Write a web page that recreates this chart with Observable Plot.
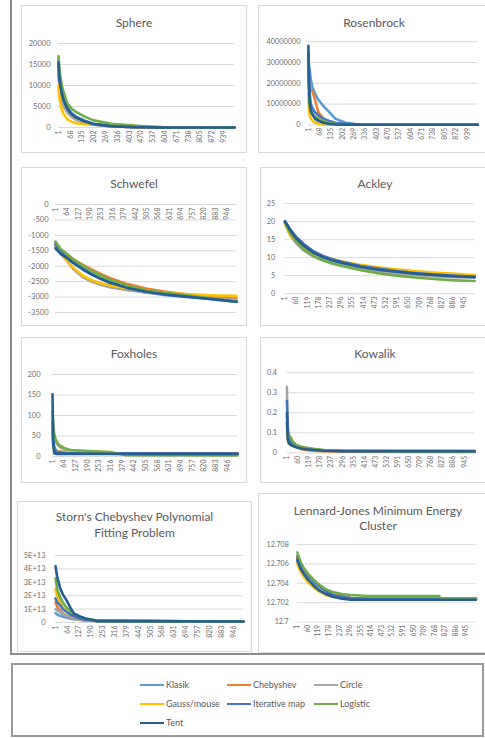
<!DOCTYPE html>
<html><head><meta charset="utf-8">
<script src="https://cdn.jsdelivr.net/npm/d3@7"></script>
<script src="https://cdn.jsdelivr.net/npm/@observablehq/plot@0.6"></script>
<style>
body{margin:0;background:#fff;font-family:Lato,"Open Sans",sans-serif;}
#page{position:relative;width:485px;height:738px;overflow:hidden;background:#fff;}
.frame{position:absolute;left:10px;top:-10px;width:520px;height:665px;border:2px solid #8c8c8c;box-sizing:border-box;}
.box{position:absolute;border:1px solid #d9d9d9;box-sizing:border-box;background:#fff;}
.plot{position:absolute;}
.title{position:absolute;text-align:center;color:#595959;font-size:12px;white-space:nowrap;}
.legend{position:absolute;left:11px;top:663px;width:473px;height:74px;border:2px solid #9a9a9a;box-sizing:border-box;}
.lg{position:absolute;left:127px;top:10px;display:grid;grid-template-columns:87px 87px 87px;grid-auto-rows:19px;}
.item{display:flex;align-items:center;font-size:9px;color:#595959;white-space:nowrap;}
.sw{width:24px;height:2px;margin-right:2px;}
</style></head>
<body><div id="page"><div class="frame"></div></div>
<script>
// ---- series ----
const seriesNames = ["Klasik","Chebyshev","Circle","Gauss/mouse","Iterative map","Logistic","Tent"];
const seriesColors = ["#5B9BD5","#ED7D31","#A5A5A5","#FFC000","#4472C4","#70AD47","#255E91"];

// ---- x tick labels ----
const ticks67 = [1,68,135,202,269,336,403,470,537,604,671,738,805,872,939];
const ticks63 = [1,64,127,190,253,316,379,442,505,568,631,694,757,820,883,946];
const ticks59 = [1,60,119,178,237,296,355,414,473,532,591,650,709,768,827,886,945];

// ---- Sphere ----
const sphereIter = [1,5,10,20,30,50,75,100,150,200,300,430,440,600,1000];
const sphereVals = [
  [14500,12000,10000,7500,6000,4200,3000,2200,1300,700,300,100,90,10,3],
  [13500,11000,9000,6800,5500,3900,2700,2000,1200,700,300,100,90,10,3],
  [12500,10000,8500,6300,5000,3600,2500,1800,1100,650,250,90,80,10,3],
  [10000,7500,6000,4200,3200,2000,1400,1000,800,700,650,600,30,5,2],
  [16000,13000,11000,8500,7000,4800,3400,2600,1600,900,400,150,140,20,5],
  [17000,14500,12500,10000,8500,5800,4500,3700,2600,1700,900,400,380,50,10],
  [15500,12500,10500,8000,6500,4500,3200,2400,1400,800,300,100,90,15,5]
];
const sphereTicks = [0,5000,10000,15000,20000];
const sphereLabels = ["0","5000","10000","15000","20000"];

// ---- Rosenbrock ----
const rosenIter = [1,3,6,10,15,25,40,60,90,120,160,220,300,500,1000];
const rosenVals = [
  [3.4e7,3.0e7,2.8e7,2.6e7,2.2e7,1.8e7,1.5e7,1.2e7,0.9e7,0.65e7,0.3e7,0.1e7,0.02e7,0,0],
  [2.5e7,2.2e7,1.8e7,1.8e7,1.7e7,1.6e7,1.2e7,0.6e7,0.3e7,0.15e7,0.08e7,0.03e7,0,0,0],
  [2.8e7,2.0e7,1.5e7,1.0e7,0.7e7,0.5e7,0.3e7,0.15e7,0.08e7,0.04e7,0.02e7,0.01e7,0,0,0],
  [1.5e7,1.0e7,0.6e7,0.4e7,0.3e7,0.2e7,0.1e7,0.05e7,0.02e7,0.01e7,0,0,0,0,0],
  [3.5e7,2.8e7,2.0e7,1.4e7,1.0e7,0.8e7,0.6e7,0.45e7,0.3e7,0.2e7,0.1e7,0.05e7,0.01e7,0,0],
  [3.0e7,2.0e7,1.2e7,0.8e7,0.6e7,0.5e7,0.4e7,0.3e7,0.2e7,0.1e7,0.05e7,0.02e7,0,0,0],
  [3.8e7,2.5e7,1.5e7,1.0e7,0.7e7,0.5e7,0.3e7,0.2e7,0.1e7,0.05e7,0.02e7,0.01e7,0,0,0]
];
const rosenTicks = [0,1e7,2e7,3e7,4e7];
const rosenLabels = ["0","10000000","20000000","30000000","40000000"];

// ---- Schwefel ----
const schwIter = [1,30,60,100,150,200,250,300,400,500,600,700,800,900,1000];
const schwVals = [
  [-1250,-1500,-1650,-1850,-2050,-2250,-2400,-2550,-2750,-2850,-2930,-2990,-3040,-3080,-3120],
  [-1300,-1480,-1600,-1780,-1950,-2100,-2250,-2380,-2580,-2720,-2820,-2890,-2950,-2990,-3020],
  [-1350,-1550,-1800,-2100,-2350,-2500,-2600,-2680,-2780,-2850,-2900,-2950,-3000,-3050,-3100],
  [-1400,-1600,-1800,-2050,-2300,-2450,-2550,-2620,-2720,-2800,-2860,-2900,-2930,-2950,-2960],
  [-1300,-1550,-1700,-1880,-2080,-2250,-2400,-2520,-2700,-2820,-2900,-2960,-3020,-3080,-3150],
  [-1200,-1450,-1580,-1780,-1980,-2150,-2300,-2430,-2630,-2770,-2860,-2930,-3000,-3080,-3160],
  [-1420,-1600,-1720,-1900,-2100,-2270,-2410,-2530,-2710,-2830,-2910,-2970,-3030,-3090,-3150]
];
const schwTicks = [0,-500,-1000,-1500,-2000,-2500,-3000,-3500];
const schwLabels = ["0","-500","-1000","-1500","-2000","-2500","-3000","-3500"];

// ---- Ackley ----
const ackIter = [1,30,60,100,150,200,250,300,400,500,600,700,800,900,1000];
const ackVals = [
  [20,17.5,15.5,13.5,11.5,10.3,9.5,8.8,7.6,6.8,6.2,5.7,5.3,5.0,4.8],
  [19.8,17,15.2,13.6,11.8,10.5,9.6,8.9,7.7,6.8,6.2,5.8,5.5,5.2,5.0],
  [19.5,16,14,12,10.3,9.2,8.4,7.8,6.8,6.0,5.5,5.1,4.8,4.6,4.5],
  [19.5,16.2,14.5,12.8,11.3,10.3,9.6,9.0,8.0,7.3,6.7,6.2,5.8,5.5,5.2],
  [20.2,17.8,15.8,13.8,11.8,10.5,9.6,8.9,7.7,6.9,6.2,5.7,5.3,5.0,4.7],
  [19.8,16.8,14.5,12.3,10.5,9.3,8.4,7.7,6.5,5.6,4.9,4.4,4.0,3.7,3.5],
  [20,17.5,15.4,13.3,11.4,10.1,9.2,8.5,7.4,6.6,6.0,5.5,5.1,4.8,4.6]
];
const ackTicks = [0,5,10,15,20,25];
const ackLabels = ["0","5","10","15","20","25"];

// ---- Foxholes ----
const foxIter = [1,5,10,20,35,60,80,100,170,250,315,320,400,1000];
const foxVals = [
  [60,40,25,15,12,10,9,8,7,7,7,7,7,7],
  [50,30,20,14,12,10,10,9,8,8,8,7,7,7],
  [70,55,45,35,25,18,14,12,10,9,9,8,8,7],
  [55,30,15,12,11,11,11,11,11,11,11,6,6,6],
  [85,45,20,12,10,9,8,8,7,7,7,7,7,7],
  [110,80,55,40,28,22,18,16,14,12,10,10,3,2.5],
  [152,30,8,6.5,6.5,6.5,6.5,6.5,6.5,6.5,6.5,6.5,6.5,6.5]
];
const foxTicks = [0,50,100,150,200];
const foxLabels = ["0","50","100","150","200"];

// ---- Kowalik ----
const kowIter = [1,5,10,20,30,50,75,100,150,200,300,1000];
const kowVals = [
  [0.15,0.09,0.07,0.05,0.04,0.03,0.025,0.02,0.015,0.012,0.01,0.009],
  [0.15,0.1,0.07,0.05,0.04,0.03,0.02,0.015,0.01,0.008,0.006,0.005],
  [0.33,0.15,0.09,0.06,0.045,0.035,0.028,0.022,0.017,0.013,0.01,0.008],
  [0.1,0.07,0.05,0.04,0.035,0.03,0.025,0.02,0.015,0.012,0.01,0.008],
  [0.26,0.12,0.08,0.055,0.045,0.035,0.028,0.022,0.016,0.012,0.01,0.009],
  [0.12,0.1,0.09,0.08,0.06,0.04,0.032,0.027,0.02,0.014,0.01,0.008],
  [0.2,0.07,0.05,0.04,0.035,0.028,0.022,0.018,0.014,0.011,0.009,0.008]
];
const kowTicks = [0,0.1,0.2,0.3,0.4];
const kowLabels = ["0","0.1","0.2","0.3","0.4"];

// ---- Storn's Chebyshev ----
const stornIter = [1,10,25,40,60,80,100,130,160,215,220,400,1000];
const stornVals = [
  [0.7e13,0.6e13,0.5e13,0.45e13,0.35e13,0.3e13,0.25e13,0.2e13,0.15e13,0.12e13,0.12e13,0.1e13,0.08e13],
  [1.5e13,1.2e13,0.9e13,0.7e13,0.5e13,0.4e13,0.3e13,0.2e13,0.15e13,0.12e13,0.12e13,0.1e13,0.08e13],
  [1.0e13,0.9e13,0.8e13,0.6e13,0.5e13,0.4e13,0.3e13,0.2e13,0.15e13,0.12e13,0.12e13,0.1e13,0.08e13],
  [2.5e13,2.0e13,1.5e13,1.1e13,0.8e13,0.6e13,0.45e13,0.3e13,0.2e13,0.12e13,0.12e13,0.1e13,0.08e13],
  [1.8e13,1.5e13,1.3e13,1.0e13,0.8e13,0.6e13,0.45e13,0.3e13,0.2e13,0.13e13,0.13e13,0.1e13,0.08e13],
  [3.3e13,2.5e13,1.9e13,1.5e13,1.1e13,0.85e13,0.65e13,0.45e13,0.3e13,0.15e13,0.12e13,0.1e13,0.08e13],
  [4.2e13,3.4e13,2.6e13,2.1e13,1.65e13,1.1e13,0.65e13,0.45e13,0.3e13,0.15e13,0.1e13,0.1e13,0.08e13]
];
const stornTicks = [0,1e13,2e13,3e13,4e13,5e13];
const stornLabels = ["0","1E+13","2E+13","3E+13","4E+13","5E+13"];

// ---- Lennard-Jones ----
const ljIter = [1,20,40,60,90,120,160,200,250,300,400,600,795,800,1000];
const ljVals = [
  [12.7065,12.7058,12.7052,12.7047,12.7041,12.7036,12.7031,12.7028,12.7026,12.7025,12.7024,12.7024,12.7024,12.7024,12.7024],
  [12.7066,12.7060,12.7055,12.7050,12.7044,12.7039,12.7033,12.7029,12.7027,12.7025,12.7024,12.7024,12.7024,12.7024,12.7024],
  [12.7062,12.7055,12.7049,12.7044,12.7038,12.7034,12.7030,12.7027,12.7025,12.7024,12.7024,12.7024,12.7024,12.7024,12.7024],
  [12.7060,12.7052,12.7046,12.7041,12.7036,12.7032,12.7028,12.7026,12.7025,12.7024,12.7024,12.7024,12.7024,12.7024,12.7024],
  [12.7068,12.7060,12.7054,12.7049,12.7043,12.7038,12.7032,12.7028,12.7026,12.7025,12.7024,12.7024,12.7024,12.7024,12.7024],
  [12.7072,12.7062,12.7055,12.7050,12.7044,12.7039,12.7034,12.7031,12.7029,12.7028,12.7027,12.7027,12.7027,12.7024,12.7024],
  [12.7064,12.7055,12.7049,12.7044,12.7038,12.7033,12.7029,12.7026,12.7024,12.7023,12.7023,12.7023,12.7023,12.7023,12.7023]
];
const ljTicks = [12.7,12.702,12.704,12.706,12.708];
const ljLabels = ["12.7","12.702","12.704","12.706","12.708"];

// ---- layout (page pixels) ----
const panels = [
  {title:["Sphere"], box:[21,5,226,148], x0:58, x1:234, yTop:43, yBot:127, dom:[0,20000], pad:8, iter:sphereIter, vals:sphereVals, yt:sphereTicks, yl:sphereLabels, xt:ticks67, tY:23},
  {title:["Rosenbrock"], box:[258,5,232,148], x0:309, x1:482, yTop:42, yBot:127, dom:[0,4e7], pad:8, iter:rosenIter, vals:rosenVals, yt:rosenTicks, yl:rosenLabels, xt:ticks67, tY:23},
  {title:["Schwefel"], box:[21,167,226,159], x0:55, x1:236, yTop:204, yBot:312, dom:[-3500,0], pad:7, iter:schwIter, vals:schwVals, yt:schwTicks, yl:schwLabels, xt:ticks63, tY:184, topAxis:true},
  {title:["Ackley"], box:[260,167,230,159], x0:285, x1:479, yTop:204, yBot:296, dom:[0,25], pad:10, iter:ackIter, vals:ackVals, yt:ackTicks, yl:ackLabels, xt:ticks59, tY:184},
  {title:["Foxholes"], box:[21,337,226,146], x0:52, x1:237, yTop:374, yBot:456, dom:[0,200], pad:12, iter:foxIter, vals:foxVals, yt:foxTicks, yl:foxLabels, xt:ticks63, tY:354},
  {title:["Kowalik"], box:[260,337,230,146], x0:287, x1:479, yTop:373, yBot:455, dom:[0,0.4], pad:10, iter:kowIter, vals:kowVals, yt:kowTicks, yl:kowLabels, xt:ticks59, tY:354},
  {title:["Storn's Chebyshev Polynomial","Fitting Problem"], box:[17,501,235,151], x0:55, x1:243, yTop:555, yBot:622, dom:[0,5e13], pad:10, iter:stornIter, vals:stornVals, yt:stornTicks, yl:stornLabels, xt:ticks63, tY:517, lh:16},
  {title:["Lennard-Jones Minimum Energy","Cluster"], box:[258,493,240,160], x0:299, x1:488, yTop:547, yBot:629, dom:[12.7,12.708], pad:9, iter:ljIter, vals:ljVals, yt:ljTicks, yl:ljLabels, xt:ticks59, tY:510, lh:15}
];

const page = document.getElementById("page");
const tickColor = "#6e6e6e";

for (const p of panels) {
  const [bx, by, bw, bh] = p.box;
  const box = document.createElement("div");
  box.className = "box";
  Object.assign(box.style, {left: bx+"px", top: by+"px", width: bw+"px", height: bh+"px"});
  page.appendChild(box);

  const lh = p.lh || 14;
  const t = document.createElement("div");
  t.className = "title";
  Object.assign(t.style, {left: bx+"px", width: bw+"px", top: (p.tY - lh/2)+"px", lineHeight: lh+"px"});
  t.innerHTML = p.title.map(s => s.replace(/&/g,"&amp;")).join("<br>");
  page.appendChild(t);

  const labelMap = new Map(p.yt.map((v,i) => [v, p.yl[i]]));
  const lineMarks = seriesNames.map((name, si) =>
    Plot.line(p.iter.map((x,j) => ({x, y: p.vals[si][j]})), {x:"x", y:"y", stroke: seriesColors[si], strokeWidth: 2.6, strokeLinejoin:"round"})
  );
  const xLabelOpts = {x: d => d, text: d => String(d), rotate: -90, textAnchor: "end", lineAnchor: "middle", dy: 3, fontSize: 7, fill: tickColor};
  if (p.topAxis) xLabelOpts.y = () => 0; else xLabelOpts.frameAnchor = "bottom";

  const chart = Plot.plot({
    width: bw, height: bh,
    marginLeft: p.x0 - bx, marginRight: bx + bw - p.x1,
    marginTop: p.yTop - by, marginBottom: by + bh - p.yBot,
    x: {domain: [1, 1000], axis: null},
    y: {domain: p.dom, axis: null},
    style: {fontFamily: "Lato, 'Open Sans', sans-serif", background: "transparent", overflow: "visible"},
    marks: [
      Plot.gridY(p.yt, {stroke: "#d9d9d9", strokeOpacity: 1, strokeWidth: 1}),
      Plot.axisY(p.yt, {tickSize: 0, tickPadding: p.pad, tickFormat: d => labelMap.get(d), fontSize: 7.5, color: tickColor, label: null}),
      ...lineMarks,
      Plot.text(p.xt, xLabelOpts)
    ]
  });
  const wrap = document.createElement("div");
  wrap.className = "plot";
  Object.assign(wrap.style, {left: bx+"px", top: by+"px"});
  wrap.appendChild(chart);
  page.appendChild(wrap);
}

// frame on top of panel bottoms
const frame = document.querySelector(".frame");
page.appendChild(frame);

// legend
const lg = document.createElement("div");
lg.className = "legend";
const grid = document.createElement("div");
grid.className = "lg";
seriesNames.forEach((name, i) => {
  const it = document.createElement("div");
  it.className = "item";
  const sw = document.createElement("span");
  sw.className = "sw";
  sw.style.background = seriesColors[i];
  it.appendChild(sw);
  it.appendChild(document.createTextNode(name));
  grid.appendChild(it);
});
lg.appendChild(grid);
page.appendChild(lg);
</script>
</body></html>
